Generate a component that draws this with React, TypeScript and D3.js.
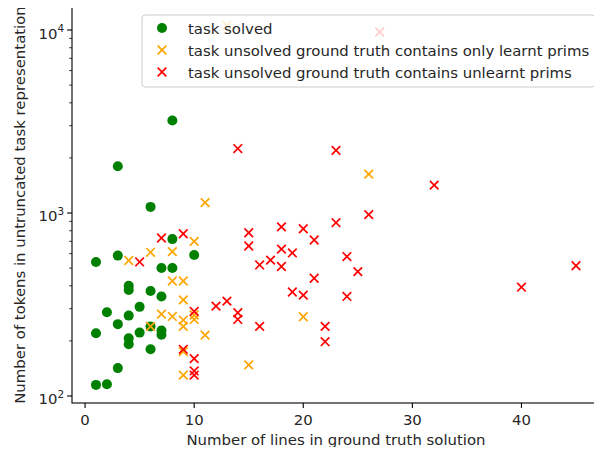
import React from "react";
import * as d3 from "d3";

const solvedX = [8, 3, 6, 8, 1, 3, 10, 7, 8, 4, 4, 6, 7, 2, 5, 4, 3, 6, 7, 7, 5, 1, 4, 4, 6, 3, 1, 2];
const solvedY = [3200, 1800, 1080, 720, 540, 585, 590, 500, 500, 400, 380, 375, 350, 287, 307, 275, 247, 240, 228, 216, 222, 220, 207, 192, 180, 142, 115, 116];

const learntX = [13, 11, 10, 4, 6, 8, 8, 9, 9, 7, 8, 9, 9, 10, 10, 11, 6, 9, 15, 9, 26, 20];
const learntY = [10600, 1140, 700, 550, 610, 615, 425, 425, 335, 280, 272, 260, 240, 277, 262, 215, 240, 175, 148, 130, 1630, 271];

const unlearntX = [27, 14, 23, 32, 26, 23, 18, 20, 15, 9, 7, 21, 15, 18, 19, 24, 17, 5, 16, 18, 25, 21, 40, 19, 20, 24, 13, 12, 10, 14, 14, 16, 22, 22, 9, 10, 10, 10, 45];
const unlearntY = [9750, 2250, 2200, 1420, 980, 885, 840, 820, 780, 770, 730, 712, 660, 635, 605, 578, 553, 540, 520, 510, 478, 440, 393, 370, 356, 350, 330, 310, 290, 285, 262, 240, 240, 198, 180, 160, 137, 130, 515];

const xTicks = [0, 10, 20, 30, 40];
const yMajor = [2, 3, 4];
const legendLabels = [
  "task solved",
  "task unsolved ground truth contains only learnt prims",
  "task unsolved ground truth contains unlearnt prims",
];
const xLabel = "Number of lines in ground truth solution";
const yLabel = "Number of tokens in untruncated task representation";

const W = 602, H = 455;
const L = 72, R = 600, T = 7, B = 403;
const FONT = "DejaVu Sans";
const FS = 14.9;

export default function App() {
  const x = d3.scaleLinear().domain([-1.2, 47.2]).range([L, R]);
  const y = d3.scaleLog().domain([Math.pow(10, 1.9617), Math.pow(10, 4.1257)]).range([B, T]);

  const minor: number[] = [];
  for (const d of [100, 1000]) for (let k = 2; k <= 9; k++) minor.push(d * k);

  const xr = 4.3;
  const cross = (cx: number, cy: number, color: string, key: string, sw = 1.7) => (
    <g key={key} stroke={color} strokeWidth={sw}>
      <line x1={cx - xr} y1={cy - xr} x2={cx + xr} y2={cy + xr} />
      <line x1={cx - xr} y1={cy + xr} x2={cx + xr} y2={cy - xr} />
    </g>
  );

  return (
    <div style={{ margin: -8 }}>
      <svg width={W} height={H} style={{ display: "block", fontFamily: FONT }}>
        <rect width={W} height={H} fill="white" />
        {/* data */}
        {solvedX.map((v, i) => (
          <circle key={"g" + i} cx={x(v)} cy={y(solvedY[i])} r={5} fill="green" />
        ))}
        {learntX.map((v, i) => cross(x(v), y(learntY[i]), "orange", "o" + i))}
        {unlearntX.map((v, i) => cross(x(v), y(unlearntY[i]), "red", "r" + i))}

        {/* spines */}
        <rect x={L} y={T} width={R - L} height={B - T} fill="none" stroke="black" strokeWidth={1.1} />

        {/* x ticks */}
        {xTicks.map((t) => (
          <g key={"xt" + t}>
            <line x1={x(t)} x2={x(t)} y1={B} y2={B + 4.9} stroke="black" strokeWidth={1.1} />
            <text x={x(t)} y={B + 22} fontSize={FS} textAnchor="middle" fill="#262626">{t}</text>
          </g>
        ))}
        {/* y ticks */}
        {yMajor.map((p) => (
          <g key={"yt" + p}>
            <line x1={L - 4.9} x2={L} y1={y(Math.pow(10, p))} y2={y(Math.pow(10, p))} stroke="black" strokeWidth={1.1} />
            <text x={L - 8} y={y(Math.pow(10, p)) + 8.5} fontSize={FS} textAnchor="end" fill="#262626">
              10<tspan fontSize={10.4} dy={-6.5}>{p}</tspan>
            </text>
          </g>
        ))}
        {minor.map((m) => (
          <line key={"m" + m} x1={L - 2.8} x2={L} y1={y(m)} y2={y(m)} stroke="black" strokeWidth={0.8} />
        ))}

        {/* axis labels */}
        <text x={(L + R) / 2} y={445} fontSize={FS} textAnchor="middle" fill="#262626">{xLabel}</text>
        <text transform={`translate(25,${(T + B) / 2}) rotate(-90)`} fontSize={FS} textAnchor="middle" fill="#262626">{yLabel}</text>

        {/* legend */}
        <rect x={142} y={15} width={453} height={72} rx={3} fill="white" fillOpacity={0.8} stroke="#cccccc" strokeWidth={1} />
        <circle cx={162} cy={28} r={5} fill="green" />
        {cross(162, 50, "orange", "lo")}
        {cross(162, 72, "red", "lr")}
        {legendLabels.map((s, i) => (
          <text key={"l" + i} x={188} y={33.5 + i * 22} fontSize={FS} fill="#262626">{s}</text>
        ))}
      </svg>
    </div>
  );
}
